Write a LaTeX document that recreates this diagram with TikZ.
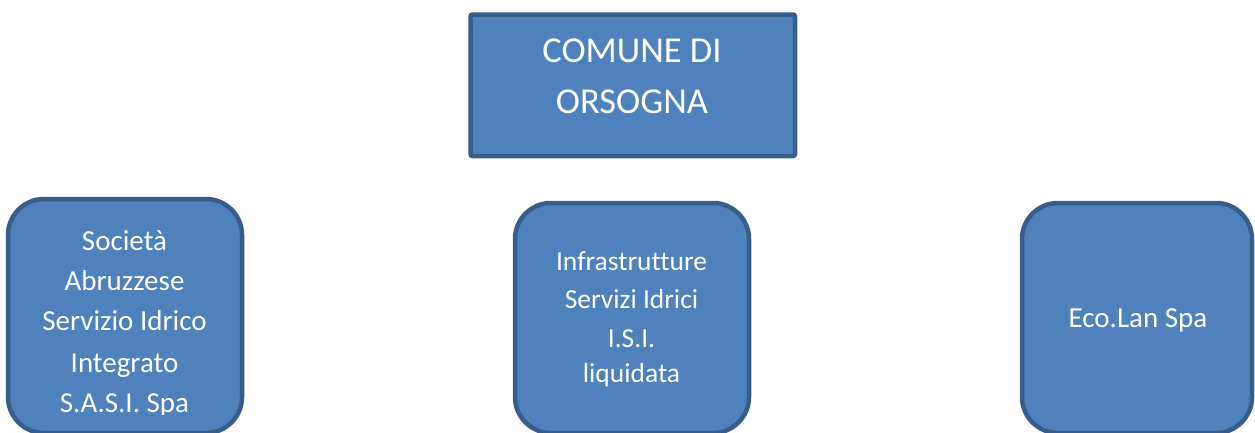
\documentclass[tikz,border=0pt]{standalone}
\usepackage{fontspec}
\setmainfont[Ligatures=NoCommon]{Carlito}
\definecolor{boxfill}{HTML}{4F81BD}
\definecolor{boxline}{HTML}{385D8A}
\begin{document}
\begin{tikzpicture}[x=1pt,y=-1pt,
  box/.style={draw=boxline, fill=boxfill, line width=4.5pt, inner sep=0pt},
  lbl/.style={text=white, anchor=base, inner sep=0pt},
  big/.style={font=\fontsize{36.5}{44}\selectfont},
  mid/.style={font=\fontsize{29}{35}\selectfont},
  sml/.style={font=\fontsize{27.5}{33}\selectfont}]
\useasboundingbox (0,0) rectangle (1255,432);
\clip (0,0) rectangle (1255,432);
\node[box, rounded corners=2pt, minimum width=324.5pt, minimum height=141.5pt] (top) at (632.75,85.25) {};
\node[box, rounded corners=36pt, minimum width=234pt, minimum height=234pt] (sasi) at (125,316) {};
\node[box, rounded corners=36pt, minimum width=234pt, minimum height=230pt] (isi) at (632,318) {};
\node[box, rounded corners=36pt, minimum width=230pt, minimum height=230pt] (ecolan) at (1137,318) {};
% top text
\node[lbl, big] (t1) at (632,62) {COMUNE DI};
\node[lbl, big] (t2) at (632,113) {ORSOGNA};
% left text
\node[lbl, mid] (s1) at (124.5,250) {Società};
\node[lbl, mid] (s2) at (124.5,290) {Abruzzese};
\node[lbl, mid] (s3) at (124.5,330) {Servizio Idrico};
\node[lbl, mid] (s4) at (124.5,372) {Integrato};
\begin{scope}
\clip (0,0) rectangle (260,414);
\node[lbl, mid] (s5) at (124.5,412) {S.A.S.I. Spa};
\end{scope}
% middle text
\node[lbl, sml] (i1) at (631.5,270) {Infrastrutture};
\node[lbl, sml] (i2) at (631.5,308) {Servizi Idrici};
\node[lbl, sml] (i3) at (631.5,347) {I.S.I.};
\node[lbl, sml] (i4) at (631.5,382) {liquidata};
% right text
\node[lbl, mid] (e1) at (1138,327) {Eco.Lan Spa};
\end{tikzpicture}
\end{document}
